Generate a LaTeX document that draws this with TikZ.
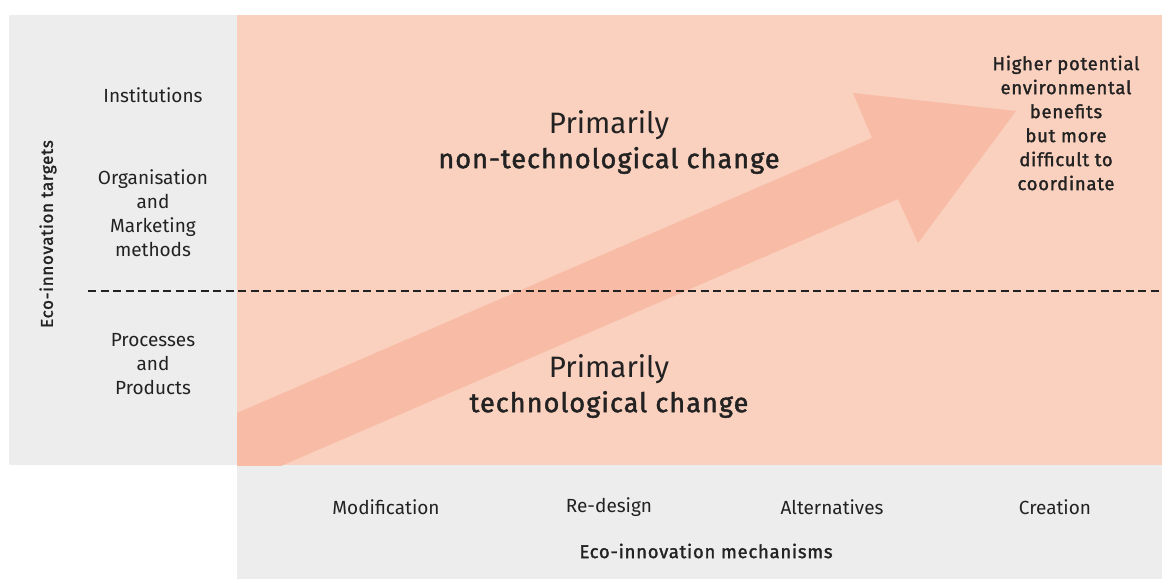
\documentclass[tikz,border=0pt]{standalone}
\usepackage{fontspec}
\setmainfont{Fira Sans}
\newfontfamily\medfont{Fira Sans}[FakeBold=1.6, LetterSpace=4]
\usepackage{xcolor}
\usetikzlibrary{positioning}

\definecolor{panelgrey}{HTML}{EDEDED}
\definecolor{peach}{HTML}{FAD0BE}
\definecolor{peachdark}{HTML}{F8BCA6}
\definecolor{ink}{HTML}{222222}

\begin{document}
\begin{tikzpicture}[x=1pt, y=-1pt,
  lighttext/.style={align=center, text=ink, font=\fontsize{19}{24}\selectfont},
  medtext/.style={align=center, text=ink, font=\medfont\fontsize{18.5}{24}\selectfont},
  bigtext/.style={align=center, text=ink, font=\fontsize{29.5}{35}\selectfont}]
\useasboundingbox (0,0) rectangle (1162,580);

% Panels
\fill[panelgrey] (9,15) rectangle (237,465);
\fill[peach] (237,15) rectangle (1162,465);
\fill[panelgrey] (237,465) rectangle (1162,579);

% Big arrow, clipped to the peach panel
\begin{scope}
\clip (237,15) rectangle (1162,465);
\fill[peachdark] (200,429) -- (872,138) -- (853,93) -- (1016,111)
    -- (918,243) -- (898,199) -- (200,501) -- cycle;
\end{scope}

% Divider
\coordinate (divL) at (88,291);
\coordinate (divR) at (1162,291);
\draw[ink, line width=1.1pt, dash pattern=on 8pt off 4.5pt] (divL) -- (divR);

% Targets
\node[medtext, font=\medfont\fontsize{17}{24}\selectfont, rotate=90] (targets) at (48,234) {Eco-innovation targets};
\node[lighttext] (inst) at (153,95) {Institutions};
\node[lighttext] (orgmkt) at (153,213) {Organisation\\and\\Marketing\\methods};
\node[lighttext] (procprod) at (153,364) {Processes\\and\\Products};

% Change regions
\node[bigtext] (nontech) at (609,142) {Primarily\\{\medfont\fontsize{27}{35}\selectfont non-technological change}};
\node[bigtext] (tech) at (609,386) {Primarily\\{\medfont\fontsize{27}{35}\selectfont technological change}};

% Benefits
\node[medtext] (benefits) at (1066,123) {Higher potential\\environmental\\benefits\\but more\\difficult to\\coordinate};

% Mechanisms
\node[lighttext] (modif) at (386,507) {Modification};
\node[lighttext] (redesign) at (609,507) {Re-design};
\node[lighttext] (altern) at (832,507) {Alternatives};
\node[lighttext] (creation) at (1055,507) {Creation};
\node[medtext] (mech) at (706,551) {Eco-innovation mechanisms};
\end{tikzpicture}
\end{document}
